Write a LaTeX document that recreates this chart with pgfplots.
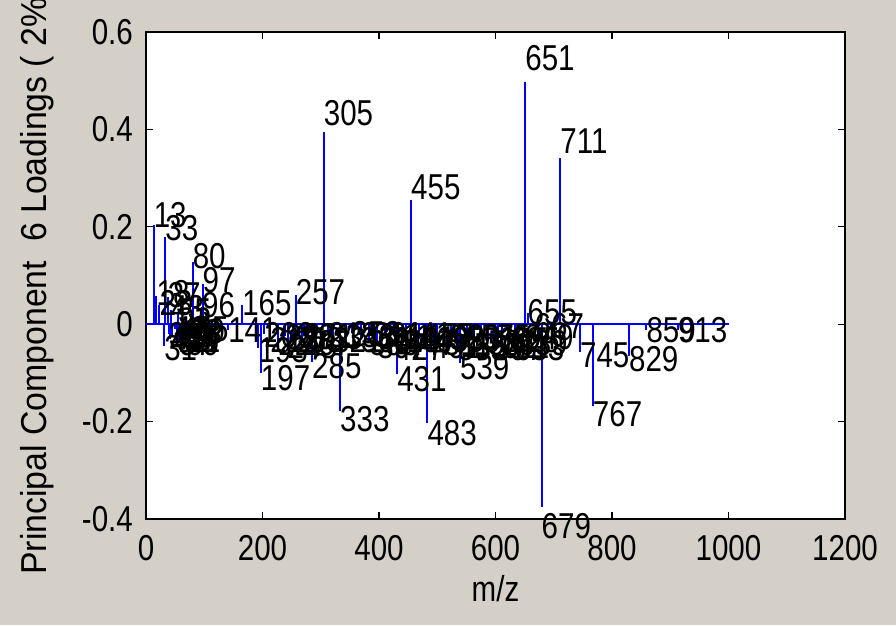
\documentclass[border=0pt]{standalone}
\usepackage{fontspec}
\setmainfont{Liberation Sans}[FakeStretch=0.82]
\newfontfamily\widefont{Liberation Sans}[FakeStretch=0.94]
\usepackage{pgfplots}
\usepackage{pgfplotstable}
\pgfplotsset{compat=1.18}
\definecolor{bgcol}{RGB}{212,208,200}
\definecolor{stemblue}{RGB}{0,0,255}

\pgfplotstableread{
mz v
13 0.203
18 0.058
23 0.040
33 0.179
37 0.055
43 0.030
55 0.025
80 0.127
96 0.035
97 0.082
165 0.040
257 0.060
305 0.394
455 0.255
651 0.497
655 0.022
711 0.341
31 -0.045
39 -0.020
41 -0.030
45 -0.025
49 -0.010
53 -0.030
57 -0.035
59 -0.020
63 -0.030
67 -0.025
69 -0.035
71 -0.030
73 -0.015
77 -0.025
79 -0.012
85 -0.010
141 -0.011
193 -0.048
197 -0.100
203 -0.020
213 -0.030
227 -0.035
239 -0.025
243 -0.040
253 -0.030
267 -0.035
271 -0.022
285 -0.078
313 -0.020
321 -0.030
333 -0.178
343 -0.025
353 -0.018
369 -0.030
383 -0.035
391 -0.020
397 -0.040
411 -0.025
419 -0.030
427 -0.045
431 -0.102
441 -0.020
447 -0.035
469 -0.030
477 -0.022
483 -0.203
491 -0.040
499 -0.028
511 -0.035
523 -0.025
535 -0.045
539 -0.080
551 -0.030
563 -0.040
575 -0.025
587 -0.035
597 -0.045
605 -0.030
611 -0.040
625 -0.030
633 -0.045
639 -0.035
649 -0.025
667 -0.004
679 -0.376
745 -0.058
767 -0.168
829 -0.066
859 -0.011
913 -0.011
}\peaks

\begin{document}
\begin{tikzpicture}[font=\fontsize{36}{42}\selectfont,
  /pgf/number format/.cd, 1000 sep={}, assume math mode=true]
\fill[bgcol] (-146pt,-106pt) rectangle (750pt,519pt);
\begin{axis}[
  at={(0pt,0pt)}, anchor=south west,
  scale only axis, width=699pt, height=487pt,
  xmin=0, xmax=1200, ymin=-0.4, ymax=0.6,
  xtick={0,200,...,1200},
  ytick={-0.4,-0.2,0,0.2,0.4,0.6},
  yticklabel style={/pgf/number format/fixed, /pgf/number format/precision=1, inner sep=0pt, xshift=-13pt},
  xticklabel style={inner sep=0pt, yshift=-16pt},
  tick align=inside, major tick length=7pt,
  every tick/.style={black, line width=1.3pt},
  axis line style={black, line width=1.5pt},
  axis background/.style={fill=white},
  clip=false,
  xlabel={m/z},
  xlabel style={at={(axis description cs:0.5,-0.17)}, anchor=base, inner sep=0pt},
  ylabel={\widefont Principal Component\ \ 6 Loadings ( 2\%)},
  ylabel style={at={(axis description cs:-0.143,-0.115)}, anchor=base west, inner sep=0pt},
]
\addplot[color=stemblue, line width=2pt] coordinates {(0,0) (1000,0)};
\addplot[ycomb, color=stemblue, draw=stemblue, line width=2pt, mark=none] table[x=mz, y=v] {\peaks};
\addplot[draw=none, mark=none, nodes near coords, point meta=explicit symbolic,
  nodes near coords style={anchor=west, inner sep=0pt, text=black}]
  table[x=mz, y expr=1.1*\thisrow{v}, meta=mz] {\peaks};
\end{axis}
\pgfresetboundingbox
\path[use as bounding box] (-146pt,-106pt) rectangle (750pt,519pt);
\end{tikzpicture}
\end{document}
